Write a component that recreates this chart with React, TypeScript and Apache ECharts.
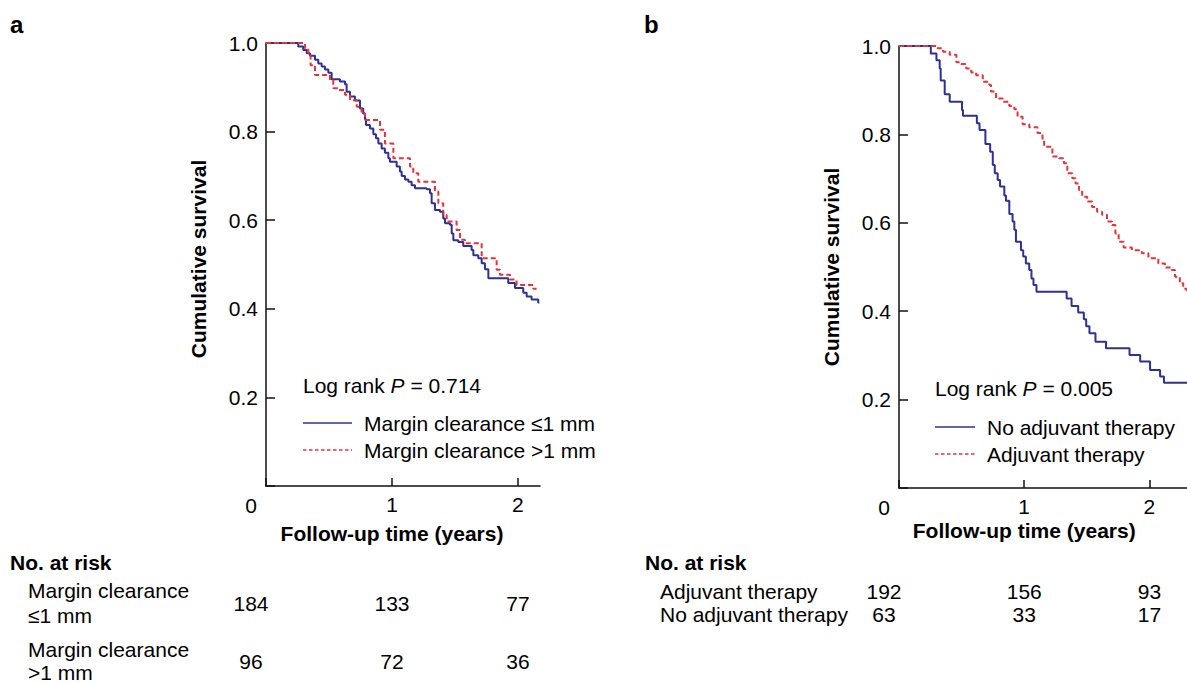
import React, { useEffect, useRef } from "react";
import * as echarts from "echarts";

// ---------- data ----------
const yTickValues = [0, 0.2, 0.4, 0.6, 0.8, 1.0];
const xTickValues = [0, 1, 2];

// Panel a: Margin clearance <=1 mm (blue)
const timeA1 = [0, 0.256, 0.296, 0.323, 0.349, 0.389, 0.415, 0.442, 0.468, 0.495, 0.521, 0.587, 0.627, 0.64, 0.667, 0.706, 0.746, 0.772, 0.786, 0.794, 0.825, 0.852, 0.873, 0.892, 0.918, 0.944, 0.971, 0.984, 1.037, 1.063, 1.077, 1.103, 1.13, 1.156, 1.183, 1.275, 1.302, 1.315, 1.341, 1.381, 1.407, 1.421, 1.46, 1.474, 1.487, 1.526, 1.566, 1.632, 1.646, 1.685, 1.712, 1.738, 1.765, 1.923, 1.976, 2.042, 2.069, 2.108, 2.161, 2.17];
const survA1 = [1, 0.992, 0.984, 0.977, 0.971, 0.962, 0.954, 0.947, 0.94, 0.933, 0.918, 0.913, 0.907, 0.89, 0.879, 0.87, 0.852, 0.841, 0.828, 0.815, 0.807, 0.794, 0.785, 0.773, 0.762, 0.752, 0.74, 0.732, 0.721, 0.71, 0.7, 0.692, 0.687, 0.679, 0.672, 0.67, 0.661, 0.638, 0.623, 0.619, 0.604, 0.593, 0.59, 0.57, 0.555, 0.551, 0.542, 0.533, 0.521, 0.514, 0.503, 0.489, 0.469, 0.458, 0.447, 0.436, 0.428, 0.421, 0.414, 0.414];

// Panel a: Margin clearance >1 mm (red)
const timeA2 = [0, 0.31, 0.336, 0.354, 0.389, 0.508, 0.534, 0.574, 0.627, 0.667, 0.72, 0.759, 0.786, 0.905, 0.944, 1.011, 1.143, 1.169, 1.209, 1.341, 1.368, 1.407, 1.434, 1.513, 1.54, 1.579, 1.712, 1.831, 1.857, 1.937, 1.989, 2.122, 2.148];
const survA2 = [1, 0.988, 0.977, 0.95, 0.928, 0.916, 0.898, 0.894, 0.883, 0.871, 0.856, 0.841, 0.826, 0.804, 0.773, 0.74, 0.721, 0.706, 0.687, 0.665, 0.638, 0.612, 0.597, 0.578, 0.556, 0.548, 0.514, 0.488, 0.477, 0.466, 0.454, 0.445, 0.445];

// Panel b: No adjuvant therapy (blue)
const timeB1 = [0, 0.254, 0.299, 0.325, 0.333, 0.365, 0.405, 0.503, 0.511, 0.622, 0.643, 0.69, 0.728, 0.749, 0.765, 0.788, 0.807, 0.841, 0.854, 0.881, 0.907, 0.921, 0.934, 0.974, 0.992, 1.013, 1.04, 1.058, 1.074, 1.098, 1.339, 1.378, 1.431, 1.476, 1.495, 1.521, 1.569, 1.653, 1.841, 1.926, 2.005, 2.085, 2.116, 2.3];
const survB1 = [1, 0.983, 0.968, 0.949, 0.922, 0.891, 0.874, 0.855, 0.842, 0.825, 0.81, 0.778, 0.761, 0.731, 0.712, 0.697, 0.682, 0.662, 0.65, 0.62, 0.603, 0.584, 0.557, 0.538, 0.524, 0.508, 0.493, 0.474, 0.459, 0.444, 0.429, 0.412, 0.397, 0.382, 0.366, 0.35, 0.331, 0.316, 0.301, 0.286, 0.267, 0.252, 0.238, 0.238];

// Panel b: Adjuvant therapy (red)
const timeB2 = [0, 0.3, 0.352, 0.405, 0.458, 0.497, 0.537, 0.577, 0.616, 0.669, 0.722, 0.735, 0.775, 0.828, 0.881, 0.921, 0.947, 0.987, 1.04, 1.106, 1.146, 1.159, 1.225, 1.278, 1.317, 1.344, 1.384, 1.41, 1.437, 1.463, 1.503, 1.542, 1.582, 1.622, 1.661, 1.701, 1.728, 1.754, 1.794, 1.86, 1.939, 1.992, 2.071, 2.124, 2.177, 2.204, 2.243, 2.27, 2.3];
const survB2 = [1, 0.995, 0.987, 0.98, 0.963, 0.959, 0.949, 0.94, 0.934, 0.919, 0.912, 0.897, 0.881, 0.874, 0.864, 0.857, 0.84, 0.823, 0.816, 0.803, 0.787, 0.772, 0.75, 0.746, 0.735, 0.712, 0.701, 0.689, 0.674, 0.659, 0.648, 0.636, 0.625, 0.618, 0.603, 0.595, 0.576, 0.557, 0.544, 0.538, 0.531, 0.52, 0.508, 0.499, 0.493, 0.478, 0.463, 0.451, 0.445];

// Number at risk
const riskTimes = [0, 1, 2];
const riskA1 = [184, 133, 77];
const riskA2 = [96, 72, 36];
const riskB1 = [192, 156, 93];
const riskB2 = [63, 33, 17];

const legendA = ["Margin clearance \u22641 mm", "Margin clearance >1 mm"];
const legendB = ["No adjuvant therapy", "Adjuvant therapy"];
const pValueA = "0.714";
const pValueB = "0.005";

// ---------- styles ----------
const FONT = "'Liberation Sans', Arial, Helvetica, sans-serif";
const BLUE = "#2E3192";
const RED = "#E2343D";
const AXIS = "#111";
const FS = 21;

const zip = (t: number[], s: number[]) => t.map((v, i) => [v, s[i]]);

function axisPair(gridIndex: number, xMax: number) {
  const xAxis = {
    type: "value",
    gridIndex,
    min: 0,
    max: xMax,
    interval: 1,
    axisLine: { show: true, onZero: false, lineStyle: { color: AXIS, width: 1.5 } },
    axisTick: { show: true, inside: true, length: 8, lineStyle: { color: AXIS, width: 1.5 } },
    axisLabel: {
      show: true,
      showMaxLabel: false,
      margin: 8,
      fontSize: FS,
      color: "#000",
      fontFamily: FONT,
      formatter: (v: number) => (v !== 0 && xTickValues.indexOf(v) >= 0 ? String(v) : ""),
    },
    splitLine: { show: false },
  };
  const yAxis = {
    type: "value",
    gridIndex,
    min: 0,
    max: 1,
    interval: 0.2,
    axisLine: { show: true, onZero: false, lineStyle: { color: AXIS, width: 1.5 } },
    axisTick: { show: true, inside: true, length: 9, lineStyle: { color: AXIS, width: 1.5 } },
    axisLabel: {
      show: true,
      margin: 8,
      fontSize: FS,
      color: "#000",
      fontFamily: FONT,
      formatter: (v: number) => (v === 0 || yTickValues.indexOf(v) < 0 ? "" : v.toFixed(1)),
    },
    splitLine: { show: false },
  };
  return { xAxis, yAxis };
}

function kmSeries(name: string, idx: number, data: number[][], color: string, dashed: boolean, z: number) {
  return {
    name,
    type: "line",
    xAxisIndex: idx,
    yAxisIndex: idx,
    step: "end",
    symbol: "none",
    data,
    z,
    lineStyle: { color, width: 2, type: dashed ? [5, 3] : "solid" },
    emphasis: { disabled: true },
  };
}

function txt(text: string, x: number, y: number, opts: any = {}) {
  return {
    type: "text",
    x,
    y,
    rotation: opts.rotation || 0,
    silent: true,
    style: {
      text,
      fill: "#000",
      font: `${opts.bold ? "bold " : ""}${opts.size || FS}px ${FONT}`,
      fontSize: opts.size || FS,
      fontWeight: opts.bold ? "bold" : "normal",
      fontFamily: FONT,
      align: opts.align || "left",
      verticalAlign: "middle",
    },
  };
}

function pText(p: string, x: number, y: number) {
  return {
    type: "text",
    x,
    y,
    silent: true,
    style: {
      text: `{n|Log rank }{i|P}{n| = ${p}}`,
      fill: "#000",
      verticalAlign: "middle",
      align: "left",
      rich: {
        n: { fontSize: FS, fontFamily: FONT, fill: "#000" },
        i: { fontSize: FS, fontFamily: FONT, fontStyle: "italic", fill: "#000" },
      },
    },
  };
}

function legLine(x1: number, x2: number, y: number, color: string, dashed: boolean) {
  return {
    type: "line",
    silent: true,
    shape: { x1, y1: y, x2, y2: y },
    style: { stroke: color, lineWidth: 1.6, lineDash: dashed ? [3.5, 2.5] : null },
  };
}

export default function App() {
  const ref = useRef<HTMLDivElement>(null);

  useEffect(() => {
    if (!ref.current) return;
    const chart = echarts.init(ref.current, null, { renderer: "svg" });
    const a = axisPair(0, 2.175);
    const b = axisPair(1, 2.3);

    chart.setOption({
      animation: false,
      backgroundColor: "#fff",
      textStyle: { fontFamily: FONT },
      grid: [
        { left: 266, top: 43, width: 274, height: 443, containLabel: false },
        { left: 899, top: 46, width: 290, height: 442, containLabel: false },
      ],
      xAxis: [a.xAxis, b.xAxis],
      yAxis: [a.yAxis, b.yAxis],
      series: [
        kmSeries(legendA[0], 0, zip(timeA1, survA1), BLUE, false, 2),
        kmSeries(legendA[1], 0, zip(timeA2, survA2), RED, true, 3),
        kmSeries(legendB[0], 1, zip(timeB1, survB1), BLUE, false, 2),
        kmSeries(legendB[1], 1, zip(timeB2, survB2), RED, true, 3),
      ],
    });

    const xPix = (i: number, t: number) => chart.convertToPixel({ xAxisIndex: i }, t) as number;
    const yPix = (i: number, v: number) => chart.convertToPixel({ yAxisIndex: i }, v) as number;
    const zeroShift = -15;
    const labelX = (i: number, t: number) => xPix(i, t) + (t === 0 ? zeroShift : 0);

    const g: any[] = [];
    // panel letters
    g.push(txt("a", 10, 24, { bold: true, size: 24 }));
    g.push(txt("b", 644, 24, { bold: true, size: 24 }));

    // origin "0" labels
    g.push(txt(String(xTickValues[0]), labelX(0, 0), yPix(0, 0) + 19, { align: "center" }));
    g.push(txt(String(xTickValues[0]), labelX(1, 0), yPix(1, 0) + 19, { align: "center" }));

    // axis titles
    g.push(txt("Cumulative survival", 198, 259, { bold: true, align: "center", rotation: Math.PI / 2 }));
    g.push(txt("Cumulative survival", 831, 267, { bold: true, align: "center", rotation: Math.PI / 2 }));
    g.push(txt("Follow-up time (years)", xPix(0, 1), 533, { bold: true, align: "center" }));
    g.push(txt("Follow-up time (years)", xPix(1, 1), 530, { bold: true, align: "center" }));

    // legends
    g.push(pText(pValueA, 303, 385));
    g.push(legLine(303, 352, 423, BLUE, false));
    g.push(legLine(303, 352, 450, RED, true));
    g.push(txt(legendA[0], 364, 423));
    g.push(txt(legendA[1], 364, 450));

    g.push(pText(pValueB, 935, 388));
    g.push(legLine(935, 975, 427, BLUE, false));
    g.push(legLine(935, 975, 454, RED, true));
    g.push(txt(legendB[0], 987, 427));
    g.push(txt(legendB[1], 987, 454));

    // number at risk tables
    g.push(txt("No. at risk", 10, 562, { bold: true }));
    g.push(txt("Margin clearance", 28, 590));
    g.push(txt("\u22641 mm", 28, 615));
    g.push(txt("Margin clearance", 28, 649));
    g.push(txt(">1 mm", 28, 672));
    riskTimes.forEach((t, k) => {
      g.push(txt(String(riskA1[k]), labelX(0, t), 603, { align: "center" }));
      g.push(txt(String(riskA2[k]), labelX(0, t), 661, { align: "center" }));
    });

    g.push(txt("No. at risk", 645, 562, { bold: true }));
    g.push(txt("Adjuvant therapy", 660, 591));
    g.push(txt("No adjuvant therapy", 660, 614));
    riskTimes.forEach((t, k) => {
      g.push(txt(String(riskB1[k]), labelX(1, t), 591, { align: "center" }));
      g.push(txt(String(riskB2[k]), labelX(1, t), 614, { align: "center" }));
    });

    chart.setOption({ graphic: g });

    return () => chart.dispose();
  }, []);

  return (
    <div
      ref={ref}
      style={{ position: "absolute", left: 0, top: 0, width: 1187, height: 683, background: "#fff" }}
    />
  );
}
